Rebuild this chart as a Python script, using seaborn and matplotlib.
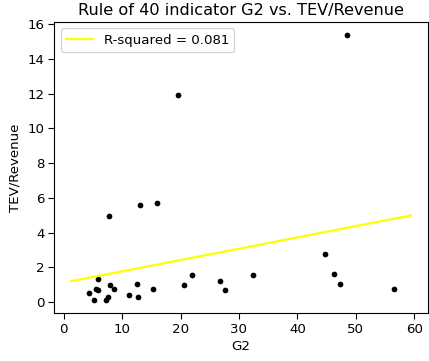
import matplotlib
matplotlib.use("Agg")
import matplotlib.pyplot as plt
import seaborn as sns
import pandas as pd

# Rule of 40 indicator G2 and TEV/Revenue per company
g2 = [48.45, 19.6, 13.0, 16.0, 7.73,
      5.91, 4.26, 5.18, 5.45, 5.91, 7.27, 7.5, 7.96, 8.64,
      11.19, 12.55, 12.78, 15.34, 20.56, 21.9, 26.7, 27.6,
      32.4, 44.75, 46.2, 47.25, 56.6]
tev_revenue = [15.38, 11.95, 5.57, 5.73, 4.95,
               1.31, 0.51, 0.12, 0.78, 0.69, 0.14, 0.28, 0.99, 0.74,
               0.43, 1.07, 0.28, 0.76, 0.98, 1.54, 1.23, 0.69,
               1.54, 2.78, 1.60, 1.05, 0.74]

# Fitted linear trend
fit_x = [1.3, 59.4]
fit_y = [1.21, 4.99]
r_squared = 0.081

points = pd.DataFrame({"G2": g2, "TEV/Revenue": tev_revenue})
trend = pd.DataFrame({"G2": fit_x, "TEV/Revenue": fit_y})

fig = plt.figure(figsize=(4.29, 3.61), dpi=100)
ax = fig.add_axes([0.1266, 0.132, 0.8704, 0.808])

sns.scatterplot(data=points, x="G2", y="TEV/Revenue", color="black",
                s=17, linewidth=0, ax=ax)
sns.lineplot(data=trend, x="G2", y="TEV/Revenue", color="yellow",
             linewidth=1.6, ax=ax, label=f"R-squared = {r_squared:.3f}")

ax.set_xticks(range(0, 61, 10))
ax.set_yticks(range(0, 17, 2))
ax.tick_params(labelsize=9.6, length=4, pad=3)
ax.set_xlabel("G2", fontsize=9.6, labelpad=3)
ax.set_ylabel("TEV/Revenue", fontsize=9.6, labelpad=4)
ax.set_title("Rule of 40 indicator G2 vs. TEV/Revenue", fontsize=11.6, pad=5)
ax.legend(loc="upper left", fontsize=9.6)

fig.savefig("out.png", dpi=100)
